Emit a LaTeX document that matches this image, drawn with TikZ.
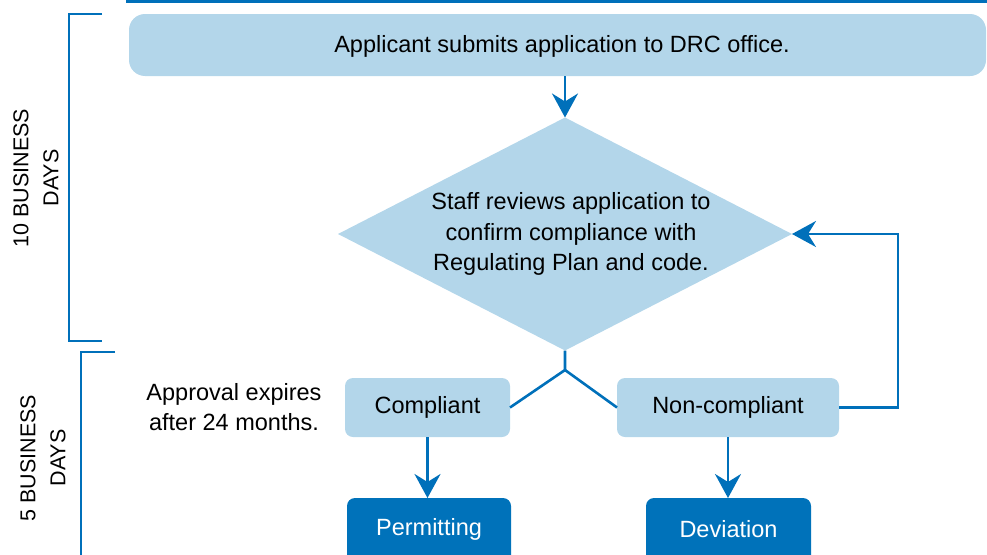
\documentclass[tikz,border=0pt]{standalone}
\usepackage{fontspec}
\setmainfont{Liberation Sans}
\usetikzlibrary{shapes.geometric,arrows.meta}
\definecolor{lblue}{HTML}{B3D6EA}
\definecolor{dblue}{HTML}{0072BA}
\definecolor{lnblue}{HTML}{0070BA}
\begin{document}
\begin{tikzpicture}[x=1pt,y=-1pt,
  every node/.style={font=\fontsize{23.5}{30.5}\selectfont, inner sep=0pt, outer sep=0pt},
  light/.style={fill=lblue, rounded corners=8pt, text=black},
  dark/.style={fill=dblue, rounded corners=8pt, text=white},
  side/.style={font=\fontsize{21.5}{30}\selectfont, rotate=90, align=center},
  conn/.style={draw=lnblue, line width=2.6pt},
  arr/.style={conn, -{Stealth[length=24pt,width=26pt,inset=8pt]}},
  brk/.style={draw=lnblue, line width=2.6pt}
]
\useasboundingbox (0,0) rectangle (987,554);
\begin{scope}
\clip (0,0) rectangle (987,554);
% top rule
\draw[lnblue, line width=3pt] (126,1.5) -- (987,1.5);
% top box
\node[light, rounded corners=16pt, minimum width=857pt, minimum height=62pt] (top) at (557.5,45) {};
\node (toptext) at (562,46) {Applicant submits application to DRC office.};
% diamond
\node[diamond, fill=lblue, minimum width=454pt, minimum height=233pt, aspect=1.95, align=center] (dia) at (565,234) {};
\node[align=center] (diatext) at (571,234) {Staff reviews application to\\confirm compliance with\\Regulating Plan and code.};
% boxes
\node[light, minimum width=165pt, minimum height=59pt] (comp) at (427.5,407.5) {Compliant};
\node[light, minimum width=222pt, minimum height=59pt] (non) at (728,407.5) {Non-compliant};
\node[dark, minimum width=164pt, minimum height=80pt, anchor=north] (perm) at (429,498) {};
\node[text=white] (permtext) at (429,529) {Permitting};
\node[dark, minimum width=165pt, minimum height=80pt, anchor=north] (dev) at (728.5,498) {};
\node[text=white] (devtext) at (728.5,529) {Deviation};
% note
\node[align=center] (note) at (234,407) {Approval expires\\after 24 months.};
% connectors
\draw[arr] (dia.north |- top.south) -- (dia.north);
\coordinate (split) at (565,370);
\draw[conn] (dia.south) -- (split) -- (comp.east);
\draw[conn] (split) -- (non.west);
\draw[arr] (non.east) -- ++(59,0) |- (dia.east);
\draw[arr] (comp.south) -- (comp.south |- perm.north);
\draw[arr] (non.south) -- (non.south |- dev.north);
% brackets
\draw[brk] (102,14) -- (69,14) -- (69,341) -- (102,341);
\draw[brk] (115,352) -- (81,352) -- (81,560);
\node[side] (ten) at (36,178) {10 BUSINESS\\DAYS};
\node[side] (five) at (43,458) {5 BUSINESS\\DAYS};
\end{scope}
\end{tikzpicture}
\end{document}
